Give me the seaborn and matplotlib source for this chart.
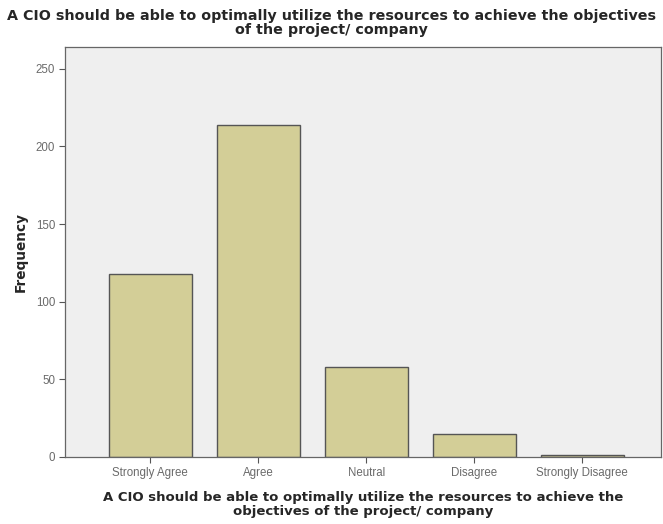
import matplotlib
matplotlib.use("Agg")
import matplotlib.pyplot as plt
import seaborn as sns
import pandas as pd

categories = ["Strongly Agree", "Agree", "Neutral", "Disagree", "Strongly Disagree"]
frequency = [118, 214, 58, 15, 1]
yticks = [0, 50, 100, 150, 200, 250]

title_txt = "A CIO should be able to optimally utilize the resources to achieve the objectives\nof the project/ company"
xlabel_txt = "A CIO should be able to optimally utilize the resources to achieve the\nobjectives of the project/ company"

sns.set_style("white")
plt.rcParams['font.family'] = ['Liberation Sans', 'DejaVu Sans']

df = pd.DataFrame({"answer": categories, "freq": frequency})

fig = plt.figure(figsize=(6.63, 5.24), dpi=100)
ax = fig.add_axes([0.098, 0.128, 0.899, 0.782])
ax.set_facecolor("#efefef")

sns.barplot(data=df, x="answer", y="freq", color="#d3ce97", saturation=1,
            width=0.766, edgecolor="#555555", linewidth=1.0, ax=ax)

ax.set_ylim(0, 264)
ax.set_xlim(-0.79, 4.73)
ax.set_yticks(yticks)
ax.tick_params(axis="both", labelsize=8.3, labelcolor="#6a6a6a", color="#555555",
               length=4, width=0.8, direction="out", left=True, bottom=True, pad=3)
for s in ax.spines.values():
    s.set_color("#666666")
    s.set_linewidth(0.9)

bold = dict(family="DejaVu Sans", fontweight="bold")
ax.set_ylabel("Frequency", fontsize=9.8, labelpad=6, **bold)
ax.set_xlabel(xlabel_txt, fontsize=9.5, labelpad=9, linespacing=1.05, **bold)
fig.suptitle(title_txt, fontsize=10.3, y=0.982, x=0.5, linespacing=1.0, **bold)

fig.savefig("out.png", dpi=100)
